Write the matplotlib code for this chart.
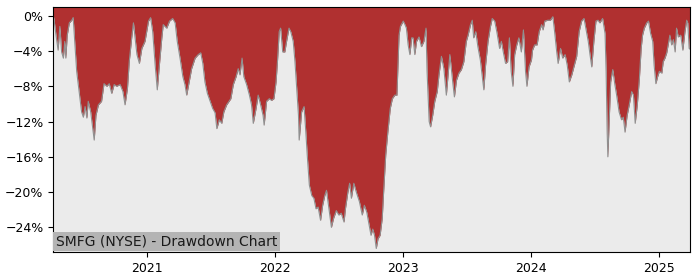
"""
SMFG drawdown chart
===================
"""

import matplotlib
matplotlib.use("Agg")
import matplotlib.pyplot as plt
import matplotlib.dates as mdates
from matplotlib.ticker import MultipleLocator, PercentFormatter
import pandas as pd

######################################################################
# Drawdown values (%)
#

dates = [
    "2020-04-08", "2020-04-10", "2020-04-16", "2020-04-22", "2020-04-27", "2020-05-02",
    "2020-05-07", "2020-05-11", "2020-05-14", "2020-05-18", "2020-05-24", "2020-05-31",
    "2020-06-04", "2020-06-09", "2020-06-14", "2020-06-21", "2020-06-28", "2020-07-03",
    "2020-07-08", "2020-07-13", "2020-07-17", "2020-07-24", "2020-07-31", "2020-08-03",
    "2020-08-08", "2020-08-15", "2020-08-24", "2020-08-31", "2020-09-08", "2020-09-15",
    "2020-09-22", "2020-09-29", "2020-10-06", "2020-10-16", "2020-10-24", "2020-10-30",
    "2020-11-06", "2020-11-11", "2020-11-18", "2020-11-23", "2020-12-03", "2020-12-10",
    "2020-12-17", "2020-12-26",
    "2021-01-05", "2021-01-11", "2021-01-17", "2021-01-24", "2021-01-30", "2021-02-05",
    "2021-02-12", "2021-02-16", "2021-02-26", "2021-03-06", "2021-03-15", "2021-03-22",
    "2021-03-28", "2021-04-05", "2021-04-13", "2021-04-19", "2021-04-24", "2021-05-01",
    "2021-05-08", "2021-05-18", "2021-05-27", "2021-06-03", "2021-06-09", "2021-06-15",
    "2021-06-22", "2021-06-30", "2021-07-07", "2021-07-14", "2021-07-19", "2021-07-26",
    "2021-08-02", "2021-08-08", "2021-08-16", "2021-08-28", "2021-09-04", "2021-09-12",
    "2021-09-18", "2021-09-23", "2021-09-29", "2021-10-04", "2021-10-12", "2021-10-20",
    "2021-10-26", "2021-10-31", "2021-11-08", "2021-11-14", "2021-11-21", "2021-11-28",
    "2021-12-01", "2021-12-08", "2021-12-16", "2021-12-22", "2021-12-29",
    "2022-01-04", "2022-01-08", "2022-01-13", "2022-01-17", "2022-01-23", "2022-01-29",
    "2022-02-03", "2022-02-10", "2022-02-15", "2022-02-22", "2022-02-27", "2022-03-04",
    "2022-03-09", "2022-03-11", "2022-03-18", "2022-03-25", "2022-03-30", "2022-04-03",
    "2022-04-09", "2022-04-16", "2022-04-22", "2022-04-28", "2022-05-04", "2022-05-11",
    "2022-05-17", "2022-05-23", "2022-05-28", "2022-06-04", "2022-06-11", "2022-06-17",
    "2022-06-25", "2022-07-02", "2022-07-09", "2022-07-17", "2022-07-21", "2022-07-28",
    "2022-08-02", "2022-08-07", "2022-08-14", "2022-08-21", "2022-08-30", "2022-09-07",
    "2022-09-13", "2022-09-20", "2022-09-28", "2022-10-02", "2022-10-07", "2022-10-12",
    "2022-10-17", "2022-10-22", "2022-10-28", "2022-11-03", "2022-11-07", "2022-11-13",
    "2022-11-19", "2022-11-26", "2022-12-02", "2022-12-09", "2022-12-15", "2022-12-21",
    "2022-12-25",
    "2023-01-02", "2023-01-07", "2023-01-11", "2023-01-16", "2023-01-21", "2023-01-26",
    "2023-01-30", "2023-02-04", "2023-02-09", "2023-02-16", "2023-02-23", "2023-03-02",
    "2023-03-08", "2023-03-11", "2023-03-17", "2023-03-21", "2023-03-27", "2023-04-02",
    "2023-04-09", "2023-04-14", "2023-04-21", "2023-04-28", "2023-05-05", "2023-05-10",
    "2023-05-15", "2023-05-20", "2023-05-24", "2023-05-28", "2023-06-03", "2023-06-10",
    "2023-06-17", "2023-06-24", "2023-07-01", "2023-07-06", "2023-07-13", "2023-07-18",
    "2023-07-22", "2023-07-28", "2023-08-03", "2023-08-10", "2023-08-16", "2023-08-20",
    "2023-08-25", "2023-09-01", "2023-09-08", "2023-09-13", "2023-09-20", "2023-09-26",
    "2023-10-04", "2023-10-09", "2023-10-15", "2023-10-21", "2023-10-27", "2023-11-01",
    "2023-11-06", "2023-11-11", "2023-11-16", "2023-11-22", "2023-11-28", "2023-12-05",
    "2023-12-11", "2023-12-17", "2023-12-21", "2023-12-27",
    "2024-01-03", "2024-01-06", "2024-01-12", "2024-01-19", "2024-01-25", "2024-02-01",
    "2024-02-05", "2024-02-10", "2024-02-19", "2024-02-26", "2024-03-04", "2024-03-09",
    "2024-03-15", "2024-03-19", "2024-03-26", "2024-04-01", "2024-04-08", "2024-04-14",
    "2024-04-20", "2024-04-27", "2024-05-03", "2024-05-11", "2024-05-18", "2024-05-25",
    "2024-06-01", "2024-06-06", "2024-06-13", "2024-06-18", "2024-06-23", "2024-06-29",
    "2024-07-05", "2024-07-11", "2024-07-16", "2024-07-24", "2024-07-31", "2024-08-03",
    "2024-08-06", "2024-08-08", "2024-08-11", "2024-08-16", "2024-08-22", "2024-08-28",
    "2024-09-02", "2024-09-09", "2024-09-16", "2024-09-21", "2024-09-26", "2024-10-02",
    "2024-10-08", "2024-10-15", "2024-10-20", "2024-10-25", "2024-10-31", "2024-11-06",
    "2024-11-11", "2024-11-15", "2024-11-20", "2024-11-27", "2024-12-02", "2024-12-08",
    "2024-12-14", "2024-12-18", "2024-12-23", "2024-12-28",
    "2025-01-02", "2025-01-09", "2025-01-13", "2025-01-18", "2025-01-23", "2025-01-27",
    "2025-02-01", "2025-02-06", "2025-02-11", "2025-02-16", "2025-02-20", "2025-02-25",
    "2025-03-04", "2025-03-10", "2025-03-16", "2025-03-21", "2025-03-24", "2025-03-28",
    "2025-03-31",
]

drawdown = [
    0.0, -0.3, -2.2, -3.9, -1.2, -4.1,
    -4.8, -2.9, -4.8, -2.2, -0.8, -0.5,
    -0.2, -3.3, -6.3, -8.6, -10.9, -11.5,
    -10.3, -11.6, -9.7, -10.9, -13.2, -14.1,
    -11.3, -10.1, -9.7, -7.7, -8.0, -7.7,
    -8.8, -7.8, -8.0, -7.8, -8.6, -10.1,
    -8.2, -5.2, -2.5, -0.8, -4.4, -5.4,
    -3.7, -2.9,
    -0.6, -0.2, -1.8, -5.6, -8.4, -5.6,
    -2.5, -1.0, -1.4, -0.6, -0.3, -0.8,
    -2.9, -4.8, -6.9, -7.8, -9.0, -7.5,
    -6.0, -4.8, -4.4, -4.2, -5.4, -7.5,
    -8.8, -9.7, -10.5, -11.0, -12.8, -11.8,
    -12.2, -10.9, -10.1, -9.4, -7.8, -6.9,
    -6.0, -6.7, -4.8, -6.9, -7.8, -9.0,
    -10.1, -12.2, -10.5, -9.0, -10.1, -11.3,
    -12.4, -9.7, -9.4, -9.6, -9.4,
    -7.5, -5.2, -1.8, -1.4, -4.1, -4.1,
    -2.9, -1.4, -1.8, -2.9, -5.2, -8.2,
    -11.3, -14.1, -10.9, -10.3, -13.2, -15.8,
    -19.2, -20.4, -20.7, -21.9, -21.7, -23.2,
    -21.5, -20.4, -19.8, -21.9, -24.0, -23.0,
    -22.1, -22.6, -22.4, -23.4, -21.9, -20.0,
    -19.0, -20.7, -19.0, -20.0, -21.1, -22.6,
    -21.5, -22.3, -24.0, -24.9, -24.2, -24.9,
    -26.4, -25.3, -24.9, -23.0, -20.0, -15.8,
    -13.2, -10.5, -9.4, -9.0, -9.0, -2.2,
    -1.2,
    -0.6, -1.0, -1.4, -3.3, -4.4, -2.5,
    -2.5, -4.4, -2.9, -2.4, -3.5, -2.9,
    -1.4, -6.3, -12.0, -12.6, -11.3, -9.7,
    -8.6, -6.7, -4.6, -6.0, -9.0, -6.7,
    -4.4, -6.3, -7.8, -9.2, -7.3, -6.5,
    -6.1, -5.2, -2.9, -2.2, -1.0, -0.5,
    -2.5, -1.8, -3.5, -5.0, -7.1, -8.4,
    -5.6, -2.9, -1.2, -0.3, -0.6, -1.8,
    -3.7, -2.9, -4.2, -5.4, -5.2, -2.5,
    -6.3, -8.0, -4.4, -3.3, -2.5, -4.1,
    -1.6, -6.3, -8.0, -5.8,
    -5.0, -3.9, -3.3, -3.3, -1.8, -1.0,
    -1.6, -0.6, -0.5, -0.5, -0.1, -1.8,
    -4.1, -5.4, -3.7, -4.8, -4.4, -5.6,
    -7.5, -6.7, -5.8, -4.6, -1.8, -0.6,
    -0.3, -1.4, -2.9, -4.4, -5.8, -2.9,
    -0.6, -0.5, -0.8, -0.3, -2.0, -6.3,
    -13.2, -16.0, -12.8, -7.5, -6.1, -7.8,
    -9.0, -10.9, -11.8, -11.5, -13.2, -11.3,
    -10.1, -8.6, -9.0, -12.2, -10.1, -7.1,
    -3.7, -2.2, -1.4, -0.8, -0.6, -2.0,
    -2.9, -5.6, -7.7, -6.9,
    -6.3, -6.5, -5.2, -4.8, -4.2, -3.3,
    -2.2, -3.3, -2.7, -4.1, -1.4, -2.4,
    -2.2, -3.9, -1.8, -0.5, -0.8, -3.7,
    -3.8,
]

title = "SMFG (NYSE) - Drawdown Chart"

######################################################################
# Plot
#

x = pd.to_datetime(dates)
y_top = 1.0

fig = plt.figure(figsize=(7, 2.8), dpi=100)
ax = fig.add_axes([0.076, 0.1, 0.91, 0.875])
ax.set_facecolor("#ebebeb")

# red area runs from the top of the axes down to the drawdown curve
ax.fill_between(x, drawdown, y_top, color="#b03030", lw=0)
ax.plot(x, drawdown, color="#909090", lw=0.8)

ax.set_xlim(x[0], x[-1])
ax.set_ylim(-26.8, y_top)
ax.yaxis.set_major_locator(MultipleLocator(4))
ax.yaxis.set_major_formatter(PercentFormatter(decimals=0))
ax.xaxis.set_major_locator(mdates.YearLocator())
ax.xaxis.set_major_formatter(mdates.DateFormatter("%Y"))
ax.tick_params(labelsize=9)

ax.annotate(title, xy=(0, 0), xycoords="axes fraction",
            xytext=(2.2, 2.6), textcoords="offset points",
            ha="left", va="bottom", fontsize=10, color="#1a1a1a",
            bbox=dict(boxstyle="square,pad=0.2", fc="#b4b4b4", ec="none"))

fig.savefig("out.png")
